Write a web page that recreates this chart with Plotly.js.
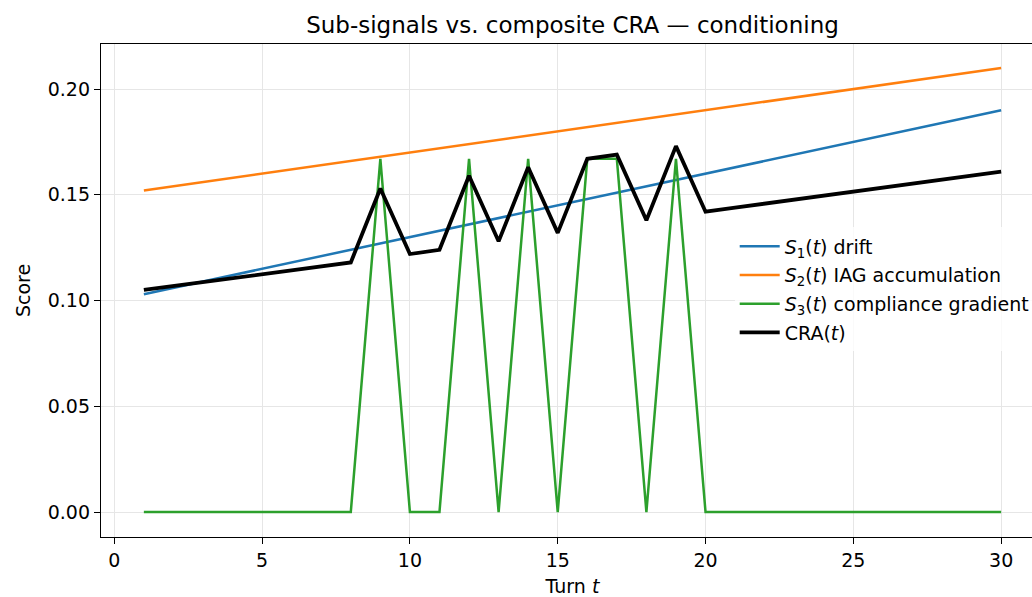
<!DOCTYPE html>
<html>
<head>
<meta charset="utf-8">
<script src="https://cdn.plot.ly/plotly-3.0.1.min.js"></script>
<style>html,body{margin:0;padding:0;overflow:hidden;background:#fff;}#chart{width:1050px;height:597px;}</style>
</head>
<body>
<div id="chart"></div>
<script>
const turns = [1,2,3,4,5,6,7,8,9,10,11,12,13,14,15,16,17,18,19,20,21,22,23,24,25,26,27,28,29,30];
const s1Drift = [0.103,0.106,0.109,0.112,0.115,0.118,0.121,0.124,0.127,0.130,0.133,0.136,0.139,0.142,0.145,0.148,0.151,0.154,0.157,0.160,0.163,0.166,0.169,0.172,0.175,0.178,0.181,0.184,0.187,0.190];
const s2IAG = [0.152,0.154,0.156,0.158,0.160,0.162,0.164,0.166,0.168,0.170,0.172,0.174,0.176,0.178,0.180,0.182,0.184,0.186,0.188,0.190,0.192,0.194,0.196,0.198,0.200,0.202,0.204,0.206,0.208,0.210];
const s3Compliance = [0,0,0,0,0,0,0,0,0.167,0,0,0.167,0,0.167,0,0.167,0.167,0,0.167,0,0,0,0,0,0,0,0,0,0,0];
const craComposite = [0.1050,0.1069,0.1087,0.1106,0.1124,0.1143,0.1161,0.1180,0.153,0.122,0.124,0.159,0.128,0.163,0.132,0.167,0.169,0.138,0.173,0.1420,0.1439,0.1458,0.1477,0.1496,0.1515,0.1534,0.1553,0.1572,0.1591,0.1610];
const seriesNames = ["<i>S</i><sub>1</sub>(<i>t</i>) drift","<i>S</i><sub>2</sub>(<i>t</i>) IAG accumulation","<i>S</i><sub>3</sub>(<i>t</i>) compliance gradient","CRA(<i>t</i>)"];
const xTicks = [0,5,10,15,20,25,30];
const yTicks = [0,0.05,0.10,0.15,0.20];

const fam = "DejaVu Sans, sans-serif";
const fs = 19;
const font = {family:fam, size:fs, color:"#000"};
const traces = [
  {x:turns, y:s1Drift, name:seriesNames[0], legendgroup:"a", mode:"lines", line:{color:"#1f77b4", width:2.5}},
  {x:turns, y:s2IAG, name:seriesNames[1], legendgroup:"b", mode:"lines", line:{color:"#ff7f0e", width:2.5}},
  {x:turns, y:s3Compliance, name:seriesNames[2], legendgroup:"c", mode:"lines", line:{color:"#2ca02c", width:2.5}},
  {x:turns, y:craComposite, name:seriesNames[3], legendgroup:"d", mode:"lines", line:{color:"#000000", width:3.8}}
];
const axisCommon = {showline:true, linecolor:"#000", linewidth:1.2, mirror:true, ticks:"outside", ticklen:6, tickcolor:"#000", showgrid:true, gridcolor:"#e6e6e6", gridwidth:1, zeroline:false, tickfont:{family:fam, size:fs, color:"#000"}};
const layout = {
  width:1050, height:597,
  margin:{l:101, r:6, t:44, b:60},
  paper_bgcolor:"#fff", plot_bgcolor:"#fff",
  font:font,
  title:{text:"Sub-signals vs. composite CRA — conditioning", font:{family:fam, size:23, color:"#000"}, x:0.5, xref:"paper", y:0.958, yanchor:"middle"},
  xaxis:Object.assign({}, axisCommon, {range:[-0.45,31.45], tickvals:xTicks, ticktext:xTicks.map(String), title:{text:"Turn <i>t</i>", font:{family:fam, size:fs, color:"#000"}, standoff:9}}),
  yaxis:Object.assign({}, axisCommon, {range:[-0.0118,0.2213], tickvals:yTicks, ticktext:yTicks.map(v=>v.toFixed(2)), title:{text:"Score", font:{family:fam, size:fs, color:"#000"}, standoff:12}}),
  legend:{x:0.672, y:0.628, xanchor:"left", yanchor:"top", bgcolor:"rgba(255,255,255,0.8)", borderwidth:0, font:{family:fam, size:fs, color:"#000"}, tracegroupgap:1, itemwidth:40},
  showlegend:true
};
Plotly.newPlot("chart", traces, layout, {displayModeBar:false, staticPlot:true});
</script>
</body>
</html>
